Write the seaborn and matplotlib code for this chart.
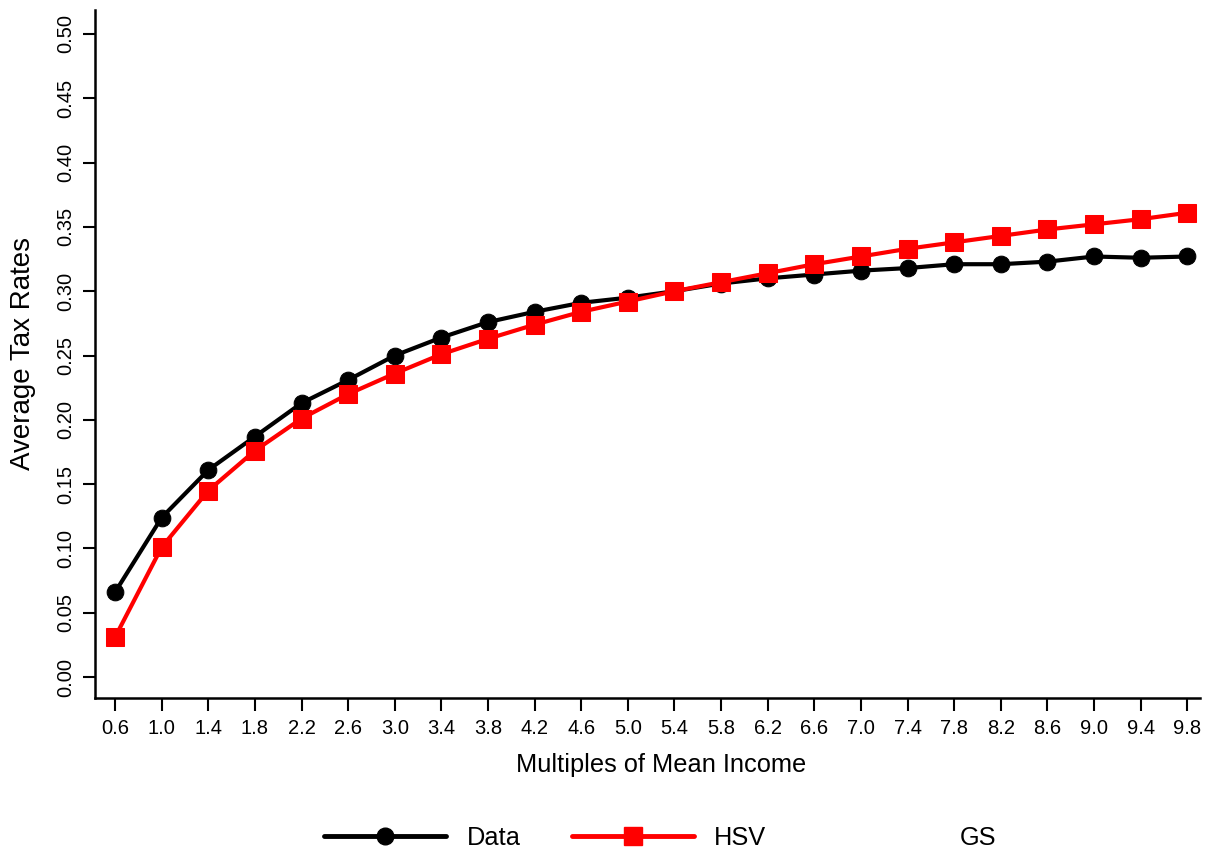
import numpy as np
import pandas as pd
import matplotlib
matplotlib.use("Agg")
import matplotlib.pyplot as plt
from matplotlib.lines import Line2D
import seaborn as sns

income_multiples = [0.6, 1.0, 1.4, 1.8, 2.2, 2.6, 3.0, 3.4, 3.8, 4.2, 4.6, 5.0,
                    5.4, 5.8, 6.2, 6.6, 7.0, 7.4, 7.8, 8.2, 8.6, 9.0, 9.4, 9.8]
data_rates = [0.066, 0.124, 0.161, 0.187, 0.213, 0.231, 0.250, 0.264, 0.276, 0.284,
              0.291, 0.295, 0.300, 0.306, 0.310, 0.313, 0.316, 0.318, 0.321, 0.321,
              0.323, 0.327, 0.326, 0.327]
hsv_rates = [0.031, 0.101, 0.145, 0.176, 0.201, 0.220, 0.236, 0.251, 0.263, 0.274,
             0.284, 0.292, 0.300, 0.307, 0.314, 0.321, 0.327, 0.333, 0.338, 0.343,
             0.348, 0.352, 0.356, 0.361]
x_tick_labels = ["0.6", "1.0", "1.4", "1.8", "2.2", "2.6", "3.0", "3.4", "3.8", "4.2",
                 "4.6", "5.0", "5.4", "5.8", "6.2", "6.6", "7.0", "7.4", "7.8", "8.2",
                 "8.6", "9.0", "9.4", "9.8"]
y_ticks = [0.00, 0.05, 0.10, 0.15, 0.20, 0.25, 0.30, 0.35, 0.40, 0.45, 0.50]
legend_labels = ["Data", "HSV", "GS"]

sns.set_style("ticks")
plt.rcParams['font.family'] = ['Liberation Sans', 'DejaVu Sans']
plt.rcParams['text.color'] = 'black'
plt.rcParams['axes.labelcolor'] = 'black'
plt.rcParams['xtick.color'] = 'black'
plt.rcParams['ytick.color'] = 'black'

fig = plt.figure(figsize=(12.09, 8.5), dpi=100)
ax = fig.add_axes([0.0786, 0.1788, 0.914, 0.8095])

sns.lineplot(x=income_multiples, y=data_rates, ax=ax, color="black", lw=3,
             marker="o", markersize=12, markeredgecolor="black")
sns.lineplot(x=income_multiples, y=hsv_rates, ax=ax, color="#ff0000", lw=3,
             marker="s", markersize=13, markeredgecolor="#ff0000")

ax.set_xlim(0.428, 9.91)
ax.set_ylim(-0.0163, 0.5187)
ax.set_xticks(income_multiples)
ax.set_xticklabels(x_tick_labels)
ax.set_yticks(y_ticks)
ax.set_yticklabels([f"{v:.2f}" for v in y_ticks], rotation=90, va="center")
ax.tick_params(axis="both", direction="out", length=9, width=1.5, color="black",
               labelcolor="black", labelsize=14.5)
ax.tick_params(axis="x", pad=6)
ax.tick_params(axis="y", pad=5)
for s in ["top", "right"]:
    ax.spines[s].set_visible(False)
for s in ["left", "bottom"]:
    ax.spines[s].set_linewidth(1.8)
    ax.spines[s].set_color("black")

ax.set_xlabel("Multiples of Mean Income", fontsize=18.3, labelpad=11, color="black")
ax.xaxis.label.set_x(0.512)
ax.set_ylabel("Average Tax Rates", fontsize=20, color="black")
ax.yaxis.set_label_coords(-0.053, 0.5)

handles = [
    Line2D([], [], color="black", lw=3.5, marker="o", markersize=12),
    Line2D([], [], color="#ff0000", lw=3.5, marker="s", markersize=13),
    Line2D([], [], color="none", lw=0),
]
fig.legend(handles, legend_labels, loc="center", bbox_to_anchor=(0.546, 0.014),
           ncol=3, frameon=False, fontsize=18.3, handlelength=4.8,
           handletextpad=0.8, columnspacing=2.0)

fig.savefig("out.png", dpi=100)
